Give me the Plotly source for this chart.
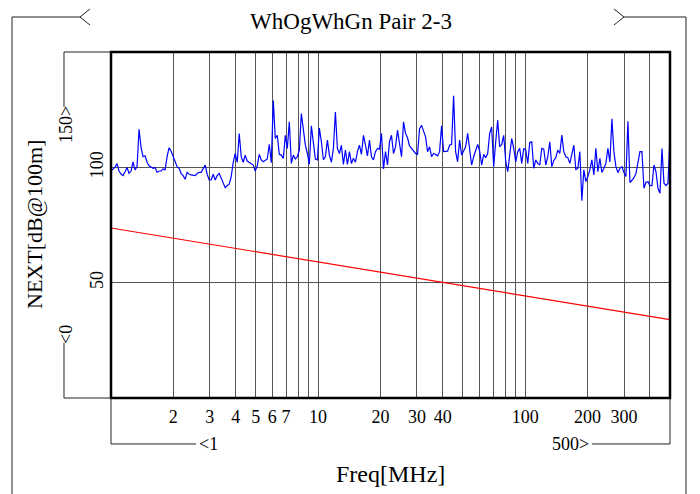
import numpy as np
import plotly.graph_objects as go

NEXT_DB = [
    98.4, 99.1, 100.1, 101.6, 98.4, 97.1, 96.4, 98.1, 99.9, 97.4,
    98.4, 102.4, 98.9, 100.3, 116.5, 108.6, 104.6, 105.0, 102.2, 100.7,
    100.3, 99.6, 99.9, 97.8, 98.4, 98.4, 99.3, 98.9, 104.6, 108.5,
    107.0, 105.0, 102.7, 100.3, 99.6, 97.3, 96.4, 94.8, 97.8, 97.0, 96.7,
    96.7, 96.4, 97.3, 97.8, 97.8, 99.6, 101.0, 97.0, 94.5, 94.5,
    97.0, 94.5, 96.4, 97.4, 95.3, 93.8, 91.2, 92.1, 92.7, 96.0,
    102.2, 106.0, 102.2, 114.7, 104.6, 102.2, 105.3, 102.7, 102.2, 101.6,
    101.0, 98.4, 100.7, 105.6, 103.2, 102.4, 103.2, 103.6, 110.0, 102.0,
    129.0, 112.5, 113.9, 105.6, 105.3, 103.9, 113.9, 108.2, 119.7, 101.7,
    105.3, 103.6, 104.6, 107.5, 123.3, 115.4, 109.6, 106.0, 101.3, 118.0,
    111.8, 103.6, 103.2, 117.0, 111.1, 103.3, 104.6, 111.8, 105.3, 102.2,
    108.2, 124.0, 108.2, 106.0, 109.6, 101.3, 107.5, 101.3, 106.8, 101.7,
    103.9, 102.2, 106.8, 109.6, 105.6, 113.9, 109.6, 105.0, 111.8, 104.6,
    103.2, 106.8, 108.2, 107.9, 114.7, 99.3, 106.8, 101.0, 111.1, 113.9,
    106.0, 108.9, 116.1, 110.3, 104.6, 119.7, 114.7, 112.8, 109.3, 108.2,
    107.0, 106.0, 105.6, 116.8, 118.2, 115.4, 113.2, 106.8, 108.9, 104.6,
    106.0, 105.6, 105.0, 106.8, 118.0, 106.8, 107.0, 107.0, 109.6, 110.0,
    131.0, 106.8, 102.4, 111.8, 105.3, 107.5, 108.9, 114.7, 108.9, 101.0,
    104.6, 107.5, 109.9, 107.0, 101.0, 105.6, 104.2, 106.0, 114.7, 117.5,
    100.3, 111.1, 120.4, 108.9, 109.9, 113.9, 102.7, 98.1, 105.3, 112.5,
    108.2, 102.4, 106.8, 108.2, 101.7, 108.2, 107.5, 101.7, 110.8, 111.1,
    99.6, 103.2, 101.7, 101.0, 108.2, 107.9, 101.0, 104.6, 111.1, 100.3,
    103.0, 104.2, 107.5, 106.0, 114.0, 106.8, 104.6, 104.2, 101.7, 106.0,
    109.6, 98.9, 99.6, 106.8, 85.5, 98.9, 93.8, 96.0, 98.9, 103.2,
    96.7, 108.2, 98.1, 103.9, 97.8, 99.6, 101.7, 108.2, 102.4, 121.0,
    106.8, 100.3, 97.7, 99.6, 100.3, 97.8, 96.0, 120.0, 93.4, 94.4,
    95.5, 97.3, 101.7, 106.8, 106.8, 90.9, 93.5, 93.8, 92.1, 92.1,
    101.0, 98.1, 90.9, 88.8, 108.2, 93.1, 92.1, 93.1, 114.0,
]
FREQ_MIN, FREQ_MAX = 1, 500
FREQ = np.geomspace(FREQ_MIN, FREQ_MAX, len(NEXT_DB))  # log-spaced sweep points

# limit line
LIMIT_FREQ = [1, 10, 100, 500]
LIMIT_DB = [73.7, 59.0, 44.3, 34.0]

GRID_FREQ = [2, 3, 4, 5, 6, 7, 8, 9, 10, 20, 30, 40, 50, 60, 70, 80, 90, 100, 200, 300, 400]
GRID_TEXT = ['2', '3', '4', '5', '6', '7', '', '', '10', '20', '30', '40', '', '', '', '', '', '100', '200', '300', '']
Y_TICKS = [50, 100]
Y_MIN, Y_MAX = 0, 150

# page is 700x494, the browser adds an 8px body margin
OFF = 8
W, H = 700 - OFF, 494 - OFF
PL, PR, PT, PB = 111, 670, 52, 398   # plot box in page pixels
FONT = 'Liberation Serif'
LINE = '#222222'


def px(x):
    return (x - PL) / (PR - PL)


def py(y):
    return (PB - y) / (PB - PT)


def path(*pts):
    return 'M ' + ' L '.join(f'{px(a):.4f},{py(b):.4f}' for a, b in pts)


fig = go.Figure()
fig.add_trace(go.Scatter(x=LIMIT_FREQ, y=LIMIT_DB, mode='lines',
                         line=dict(color='#ff0000', width=1.2), hoverinfo='skip'))
fig.add_trace(go.Scatter(x=FREQ, y=NEXT_DB, mode='lines',
                         line=dict(color='#0000ff', width=1.2)))

shapes = [
    dict(type='rect', xref='paper', yref='paper', x0=0, x1=1, y0=0, y1=1,
         line=dict(color='black', width=2.5)),
]
# bracket lines around the axes and title
for p in [
    path((64, 107), (64, 52), (111, 52)),
    path((64, 343), (64, 398), (111, 398)),
    path((111, 398), (111, 444), (196, 444)),
    path((592, 444), (670, 444), (670, 398)),
    path((12, 500), (12, 17), (80, 17)),
    path((90, 9), (80, 17), (90, 25)),
    path((614, 9), (624, 17), (614, 25)),
    path((624, 17), (686, 17), (686, 500)),
]:
    shapes.append(dict(type='path', xref='paper', yref='paper', path=p,
                       line=dict(color=LINE, width=1)))

annotations = [
    dict(text='150&gt;', x=px(66), y=py(125), textangle=-90),
    dict(text='&lt;0', x=px(66), y=py(335), textangle=-90),
    dict(text='&lt;1', x=px(197), y=py(444), xanchor='left'),
    dict(text='500&gt;', x=px(591), y=py(444), xanchor='right'),
    dict(text='Freq[MHz]', x=0.5, y=py(474), font=dict(size=24)),
    dict(text='NEXT[dB@100m]', x=px(34), y=py(225), textangle=-90, font=dict(size=22)),
]
for a in annotations:
    a.setdefault('font', dict(size=18))
    a.setdefault('xanchor', 'center')
    a['font'] = dict(family=FONT, color='black', **a['font'])
    a.update(xref='paper', yref='paper', yanchor='middle', showarrow=False)

fig.update_layout(
    width=W, height=H,
    margin=dict(l=PL - OFF, r=W - (PR - OFF), t=PT - OFF, b=H - (PB - OFF)),
    paper_bgcolor='white', plot_bgcolor='white',
    showlegend=False,
    font=dict(family=FONT, size=18, color='black'),
    title=dict(text='WhOgWhGn Pair 2-3', x=(351 - OFF) / W, y=1 - (21 - OFF) / H,
               xref='container', yref='container', xanchor='center', yanchor='middle',
               font=dict(family=FONT, size=23, color='black')),
    xaxis=dict(type='log', range=[np.log10(FREQ_MIN), np.log10(FREQ_MAX)],
               tickvals=GRID_FREQ, ticktext=GRID_TEXT, showgrid=True,
               gridcolor='#555555', gridwidth=1, zeroline=False, showline=False,
               ticks='', ticklabelstandoff=6),
    yaxis=dict(range=[Y_MIN, Y_MAX], tickvals=Y_TICKS, tickangle=-90,
               showgrid=True, gridcolor='#555555', gridwidth=1,
               zeroline=False, showline=False, ticks='', ticklabelstandoff=3),
    shapes=shapes,
    annotations=annotations,
)

fig.write_html('out.html')
